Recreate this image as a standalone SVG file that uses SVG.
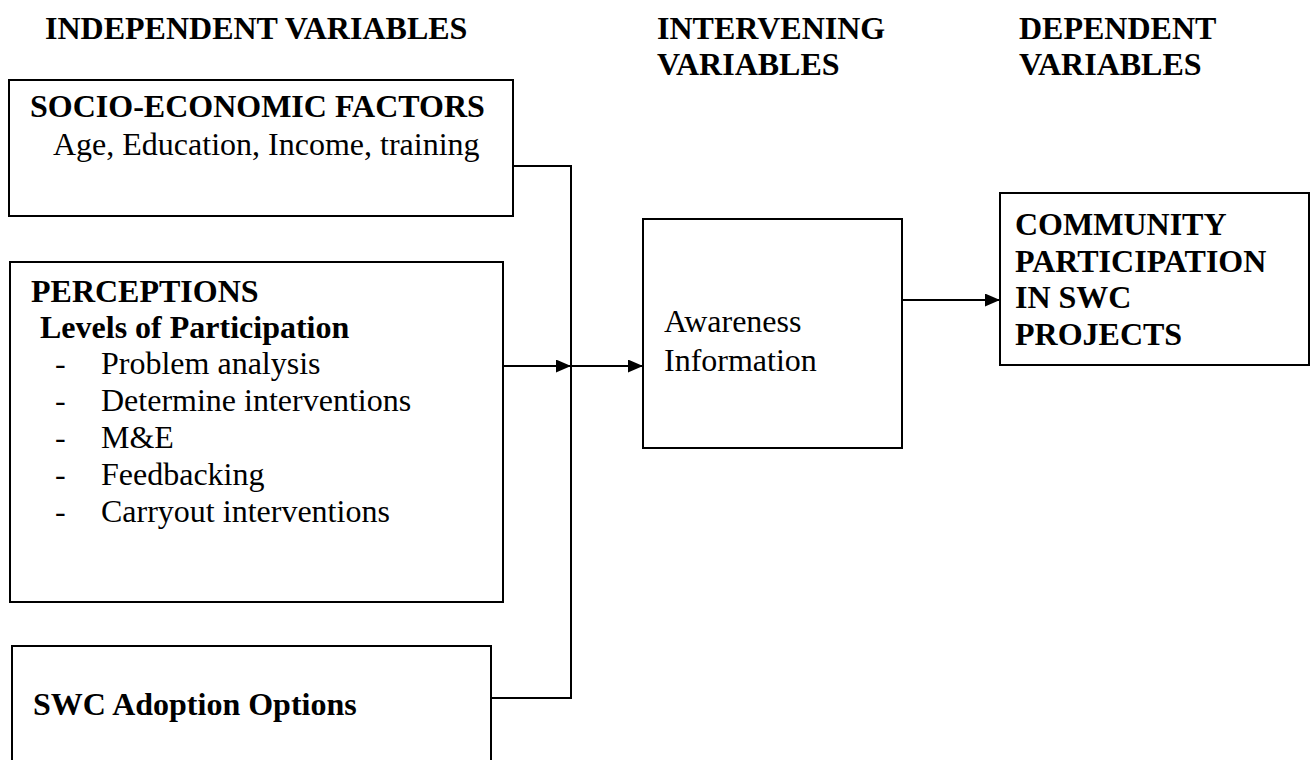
<svg xmlns="http://www.w3.org/2000/svg" width="1312" height="760" viewBox="0 0 1312 760">
<style>
text{font-family:"Liberation Serif","Times New Roman",serif;font-size:32px;fill:#000}
.b{font-weight:bold}
.box{fill:#fff;stroke:#000;stroke-width:2}
.ln{fill:none;stroke:#000;stroke-width:2}
</style>
<defs>
<marker id="ah" markerWidth="15" markerHeight="13" refX="15" refY="6.5" orient="auto" markerUnits="userSpaceOnUse">
<path d="M0,0 L15,6.5 L0,13 Z" fill="#000"/>
</marker>
</defs>
<rect width="1312" height="760" fill="#fff"/>
<g id="headers">
<text class="b" x="45" y="39">INDEPENDENT VARIABLES</text>
<text class="b" x="657" y="39">INTERVENING</text>
<text class="b" x="657" y="75">VARIABLES</text>
<text class="b" x="1019" y="39">DEPENDENT</text>
<text class="b" x="1019" y="75">VARIABLES</text>
</g>
<g id="connectors">
<polyline class="ln" points="513,166 571,166 571,698 491,698"/>
<line class="ln" x1="503" y1="366" x2="571" y2="366" marker-end="url(#ah)"/>
<line class="ln" x1="571" y1="366" x2="643" y2="366" marker-end="url(#ah)"/>
<line class="ln" x1="902" y1="300" x2="1000" y2="300" marker-end="url(#ah)"/>
</g>
<g id="socio">
<rect class="box" x="9" y="80" width="504" height="136"/>
<text class="b" x="30" y="117">SOCIO-ECONOMIC FACTORS</text>
<text x="53" y="155">Age, Education, Income, training</text>
</g>
<g id="perceptions">
<rect class="box" x="10" y="262" width="493" height="340"/>
<text class="b" x="31" y="302">PERCEPTIONS</text>
<text class="b" x="40" y="338">Levels of Participation</text>
<text x="55" y="374">-</text><text x="101" y="374">Problem analysis</text>
<text x="55" y="411">-</text><text x="101" y="411">Determine interventions</text>
<text x="55" y="448">-</text><text x="101" y="448">M&amp;E</text>
<text x="55" y="485">-</text><text x="101" y="485">Feedbacking</text>
<text x="55" y="522">-</text><text x="101" y="522">Carryout interventions</text>
</g>
<g id="swc">
<rect class="box" x="12" y="646" width="479" height="140"/>
<text class="b" x="33" y="715">SWC Adoption Options</text>
</g>
<g id="awareness">
<rect class="box" x="643" y="219" width="259" height="229"/>
<text x="664" y="332">Awareness</text>
<text x="664" y="371">Information</text>
</g>
<g id="community">
<rect class="box" x="1000" y="193" width="309" height="172"/>
<text class="b" x="1015" y="235">COMMUNITY</text>
<text class="b" x="1015" y="272">PARTICIPATION</text>
<text class="b" x="1015" y="308">IN SWC</text>
<text class="b" x="1015" y="345">PROJECTS</text>
</g>
</svg>
